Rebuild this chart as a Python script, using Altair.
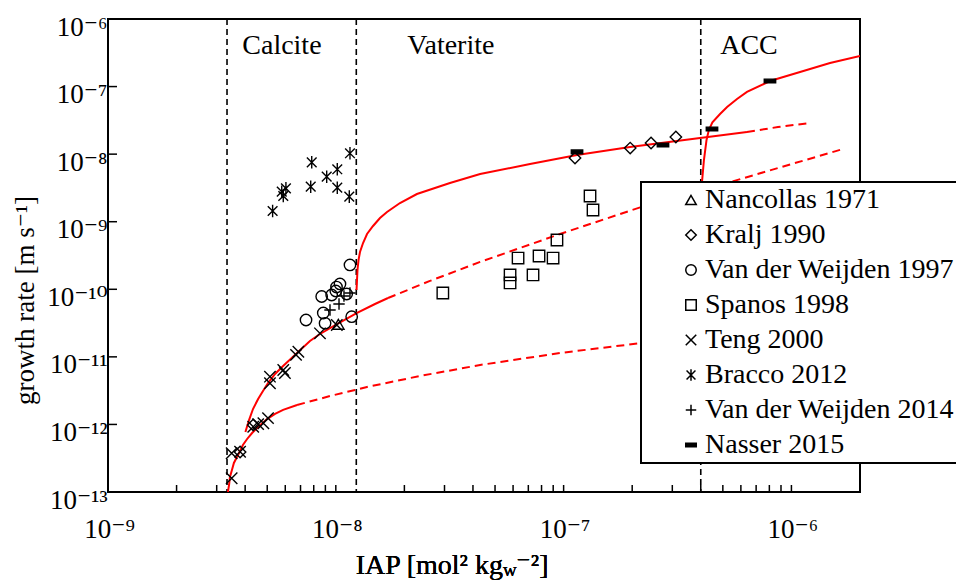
import altair as alt
import pandas as pd

SERIF = "Liberation Serif, DejaVu Serif, serif"
BLACK = "black"
RED = "#ff0000"

# ---------------- literature growth rates ----------------
studies = ["Nancollas 1971", "Kralj 1990", "Van der Weijden 1997", "Spanos 1998",
           "Teng 2000", "Bracco 2012", "Van der Weijden 2014", "Nasser 2015"]

nancollas_iap = [1.026e-8]
nancollas_rate = [3.03e-11]

kralj_iap = [3.80e-9, 4.34e-9, 1.122e-7, 1.96e-7, 2.42e-7, 3.11e-7]
kralj_rate = [3.9e-13, 9.8e-13, 8.77e-9, 1.23e-8, 1.46e-8, 1.79e-8]

weijden97_iap = [1.154e-8, 1.043e-8, 8.67e-9, 9.59e-9, 1.0e-8, 1.116e-8,
                 8.81e-9, 7.40e-9, 8.97e-9, 1.174e-8, 1.007e-8]
weijden97_rate = [2.29e-10, 1.20e-10, 7.82e-11, 8.23e-11, 9.44e-11, 8.51e-11,
                  4.46e-11, 3.51e-11, 3.14e-11, 3.93e-11, 1.08e-10]

spanos_iap = [2.95e-8, 5.82e-8, 5.82e-8, 6.31e-8, 7.34e-8, 7.80e-8, 8.99e-8,
              9.35e-8, 1.306e-7, 1.346e-7]
spanos_rate = [8.81e-11, 1.63e-10, 1.24e-10, 2.90e-10, 1.63e-10, 3.11e-10,
               2.90e-10, 5.36e-10, 2.40e-9, 1.49e-9]

teng_iap = [3.49e-9, 3.49e-9, 3.80e-9, 4.34e-9, 4.56e-9, 4.81e-9, 5.04e-9,
            5.14e-9, 5.14e-9, 5.88e-9, 5.98e-9, 6.85e-9, 6.69e-9, 8.52e-9, 1.01e-8]
teng_rate = [1.60e-13, 3.74e-13, 3.95e-13, 9.25e-13, 1.01e-12, 1.04e-12, 1.24e-12,
             5.09e-12, 4.06e-12, 6.39e-12, 5.77e-12, 1.19e-11, 1.07e-11, 2.23e-11,
             2.96e-11]

bracco_iap = [5.28e-9, 5.79e-9, 5.88e-9, 6.04e-9, 7.84e-9, 7.76e-9, 9.12e-9,
              1.015e-8, 1.015e-8, 1.154e-8, 1.146e-8]
bracco_rate = [1.44e-9, 2.78e-9, 2.40e-9, 3.12e-9, 7.57e-9, 3.30e-9, 4.64e-9,
               5.97e-9, 3.19e-9, 1.03e-8, 2.35e-9]

weijden14_iap = [9.43e-9, 1.033e-8, 1.154e-8, 1.086e-8]
weijden14_rate = [4.94e-11, 6.06e-11, 8.81e-11, 7.96e-11]

nasser_iap = [1.145e-7, 2.73e-7, 4.48e-7, 8.05e-7]
nasser_rate = [1.08e-8, 1.37e-8, 2.36e-8, 1.21e-7]

# ---------------- model curves ----------------
calcite_low_iap = [3.36e-9, 3.40e-9, 3.43e-9, 3.50e-9, 3.57e-9, 3.68e-9, 3.80e-9,
                   3.91e-9, 4.08e-9, 4.29e-9, 4.56e-9, 4.99e-9, 5.41e-9, 5.87e-9, 6.76e-9]
calcite_low_rate = [1.0e-13, 1.27e-13, 1.67e-13, 2.12e-13, 2.69e-13, 3.30e-13, 4.05e-13,
                    4.96e-13, 6.09e-13, 7.47e-13, 9.16e-13, 1.20e-12, 1.43e-12, 1.64e-12,
                    1.94e-12]
calcite_low_ext_iap = [6.76e-9, 9.43e-9, 1.371e-8, 2.34e-8, 4.30e-8, 9.64e-8, 2.19e-7, 3.59e-7]
calcite_low_ext_rate = [1.94e-12, 2.63e-12, 3.58e-12, 5.21e-12, 7.58e-12, 1.14e-11,
                        1.60e-11, 1.97e-11]

calcite_up_iap = [4.01e-9, 4.16e-9, 4.33e-9, 4.56e-9, 4.79e-9, 5.04e-9, 5.41e-9, 5.87e-9,
                  6.76e-9, 7.70e-9, 8.52e-9, 1.012e-8, 1.24e-8, 1.486e-8, 1.695e-8]
calcite_up_rate = [7.73e-13, 1.16e-12, 1.69e-12, 2.38e-12, 3.12e-12, 4.10e-12, 5.58e-12,
                   7.32e-12, 1.14e-11, 1.72e-11, 2.18e-11, 3.06e-11, 4.46e-11, 6.06e-11,
                   7.43e-11]
calcite_up_ext_iap = [1.695e-8, 2.59e-8, 4.30e-8, 9.64e-8, 2.19e-7, 5.22e-7, 9.37e-7, 1.685e-6]
calcite_up_ext_rate = [7.43e-11, 1.33e-10, 2.54e-10, 6.58e-10, 1.65e-9, 3.74e-9, 6.68e-9,
                       1.19e-8]

vaterite_iap = [1.233e-8, 1.239e-8, 1.245e-8, 1.258e-8, 1.277e-8, 1.317e-8, 1.371e-8,
                1.457e-8, 1.563e-8, 1.678e-8, 1.913e-8, 2.27e-8, 3.17e-8, 4.30e-8,
                7.12e-8, 1.145e-7, 1.956e-7, 3.97e-7, 6.38e-7]
vaterite_rate = [9.76e-11, 1.37e-10, 1.93e-10, 2.71e-10, 3.56e-10, 4.84e-10, 6.58e-10,
                 8.65e-10, 1.135e-9, 1.39e-9, 1.89e-9, 2.57e-9, 3.74e-9, 5.08e-9,
                 7.15e-9, 9.71e-9, 1.28e-8, 1.73e-8, 2.13e-8]
vaterite_ext_iap = [6.38e-7, 8.73e-7, 1.207e-6]
vaterite_ext_rate = [2.13e-8, 2.52e-8, 2.89e-8]

acc_iap = [4.01e-7, 4.03e-7, 4.05e-7, 4.13e-7, 4.24e-7, 4.34e-7, 4.50e-7, 4.86e-7,
           5.22e-7, 5.77e-7, 6.38e-7, 8.05e-7, 1.091e-6, 1.477e-6, 2.0e-6]
acc_rate = [1.26e-9, 2.95e-9, 3.87e-9, 8.19e-9, 1.62e-8, 2.28e-8, 2.95e-8, 3.93e-8,
            4.99e-8, 6.55e-8, 8.32e-8, 1.21e-7, 1.64e-7, 2.23e-7, 2.84e-7]

# phase solubility limits
phase_iap = [3.33e-9, 1.23e-8, 4.0e-7]
phase_names = ["Calcite", "Vaterite", "ACC"]
phase_label_iap = [5.80e-9, 3.20e-8, 6.51e-7]
phase_label_rate = [4.0e-7, 4.0e-7, 4.0e-7]

# axes
x_major = [1e-9, 1e-8, 1e-7, 1e-6]
x_major_labels = ["10⁻⁹", "10⁻⁸", "10⁻⁷", "10⁻⁶"]
x_tick_values = [1e-9, 2e-9, 3e-9, 4e-9, 5e-9, 6e-9, 7e-9, 8e-9, 9e-9,
                 1e-8, 2e-8, 3e-8, 4e-8, 5e-8, 6e-8, 7e-8, 8e-8, 9e-8,
                 1e-7, 2e-7, 3e-7, 4e-7, 5e-7, 6e-7, 7e-7, 8e-7, 9e-7, 1e-6]
y_major = [1e-13, 1e-12, 1e-11, 1e-10, 1e-9, 1e-8, 1e-7, 1e-6]
y_major_labels = ["10⁻¹³", "10⁻¹²", "10⁻¹¹", "10⁻¹⁰", "10⁻⁹", "10⁻⁸", "10⁻⁷", "10⁻⁶"]

# ---------------- tables ----------------
series = [
    ("Nancollas 1971", nancollas_iap, nancollas_rate),
    ("Kralj 1990", kralj_iap, kralj_rate),
    ("Van der Weijden 1997", weijden97_iap, weijden97_rate),
    ("Spanos 1998", spanos_iap, spanos_rate),
    ("Teng 2000", teng_iap, teng_rate),
    ("Bracco 2012", bracco_iap, bracco_rate),
    ("Van der Weijden 2014", weijden14_iap, weijden14_rate),
    ("Nasser 2015", nasser_iap, nasser_rate),
]
points = pd.DataFrame(
    [{"iap": x, "rate": y, "study": name} for name, xs, ys in series for x, y in zip(xs, ys)]
)

def curve_table(parts):
    rows = []
    for cid, xs, ys in parts:
        for i, (x, y) in enumerate(zip(xs, ys)):
            rows.append({"iap": x, "rate": y, "curve": cid, "idx": i})
    return pd.DataFrame(rows)

solid_curves = curve_table([
    ("calcite_low", calcite_low_iap, calcite_low_rate),
    ("calcite_up", calcite_up_iap, calcite_up_rate),
    ("vaterite", vaterite_iap, vaterite_rate),
    ("acc", acc_iap, acc_rate),
])
dashed_curves = curve_table([
    ("calcite_low", calcite_low_ext_iap, calcite_low_ext_rate),
    ("calcite_up", calcite_up_ext_iap, calcite_up_ext_rate),
    ("vaterite", vaterite_ext_iap, vaterite_ext_rate),
])

phases = pd.DataFrame({"iap": phase_iap})
phase_labels = pd.DataFrame({"iap": phase_label_iap, "rate": phase_label_rate,
                             "name": phase_names})
x_ticks = pd.DataFrame({"iap": x_tick_values})
y_ticks = pd.DataFrame({"rate": y_major})


def label_expr(values, labels):
    parts = [f"(datum.value > {v / 2:g} && datum.value < {v * 2:g}) ? '{lab}'"
             for v, lab in zip(values, labels)]
    return " : ".join(parts) + " : ''"


x_scale = alt.Scale(type="log", domain=[1e-9, 2e-6], nice=False)
y_scale = alt.Scale(type="log", domain=[1e-13, 1e-6], nice=False)

x_axis = alt.Axis(values=x_major, labelExpr=label_expr(x_major, x_major_labels),
                  ticks=False, tickSize=0, domain=False, grid=False,
                  labelFont=SERIF, labelFontSize=27, labelColor=BLACK,
                  labelPadding=24, labelAlign="center", labelOffset=1,
                  labelFlush=False, labelOverlap=False, labelBound=False, title=None)
y_axis = alt.Axis(values=y_major, labelExpr=label_expr(y_major, y_major_labels),
                  ticks=False, tickSize=0, domain=False, grid=False,
                  labelFont=SERIF, labelFontSize=27, labelColor=BLACK,
                  labelPadding=1, labelAlign="right", labelBaseline="middle",
                  labelOffset=8, labelOverlap=False, labelBound=False,
                  title="growth rate [m s⁻¹]", titleFont=SERIF, titleFontSize=27,
                  titleFontWeight="normal", titleColor=BLACK, titleX=-83, titleY=281,
                  titleAngle=270, titleAlign="center", titleBaseline="middle")

X = alt.X("iap:Q", scale=x_scale, axis=x_axis)
Y = alt.Y("rate:Q", scale=y_scale, axis=y_axis)

# phase boundaries
bounds = alt.Chart(phases).mark_rule(color=BLACK, strokeWidth=1.6, strokeDash=[6, 4]).encode(
    x=alt.X("iap:Q", scale=x_scale, axis=x_axis)
)

solid = alt.Chart(solid_curves).mark_line(color=RED, strokeWidth=2, clip=True).encode(
    x=X, y=Y, detail="curve:N", order="idx:Q"
)
dashed = alt.Chart(dashed_curves).mark_line(color=RED, strokeWidth=2, strokeDash=[8, 5],
                                            clip=True).encode(
    x=X, y=Y, detail="curve:N", order="idx:Q"
)

shape_range = [
    "triangle-up",
    "diamond",
    "circle",
    "square",
    "M-1,-1L1,1M1,-1L-1,1",
    "M-0.85,-0.85L0.85,0.85M0.85,-0.85L-0.85,0.85M0,-1.1L0,1.1",
    "M-1,0L1,0M0,-1L0,1",
    "M-1,-0.32L1,-0.32L1,0.32L-1,0.32Z",
]
fill_range = ["transparent"] * 7 + [BLACK]
stroke_range = [BLACK] * 8

legend = alt.Legend(
    title=None, orient="none", legendX=533, legendY=163,
    fillColor="white", strokeColor=BLACK, padding=4, symbolOffset=32,
    labelFont=SERIF, labelFontSize=28, labelColor=BLACK, labelOffset=0,
    labelLimit=500, labelBaseline="middle", rowPadding=7,
    symbolSize=110, symbolStrokeWidth=1.5, symbolStrokeColor=BLACK, zindex=1,
)

pts = alt.Chart(points).mark_point(filled=True, strokeWidth=1.4,
                                   opacity=1, size=130).encode(
    x=X, y=Y,
    shape=alt.Shape("study:N", scale=alt.Scale(domain=studies, range=shape_range),
                    legend=legend),
    fill=alt.Fill("study:N", scale=alt.Scale(domain=studies, range=fill_range)),
    stroke=alt.Stroke("study:N", scale=alt.Scale(domain=studies, range=stroke_range)),
)

# inward axis ticks
xt = alt.Chart(x_ticks).mark_tick(orient="vertical", size=7, thickness=1.5, color=BLACK,
                                  yOffset=-3.5, opacity=1).encode(
    x=X, y=alt.datum(1e-13)
)
yt = alt.Chart(y_ticks).mark_tick(orient="horizontal", size=9, thickness=1.5, color=BLACK,
                                  xOffset=4.5, opacity=1).encode(
    y=Y, x=alt.datum(1e-9)
)

phase_text = alt.Chart(phase_labels).mark_text(font=SERIF, fontSize=28, color=BLACK,
                                               align="center", baseline="middle").encode(
    x=X, y=Y, text="name:N"
)

# x-axis title with subscript
t1 = alt.Chart(phases).mark_text(font=SERIF, fontSize=28, color=BLACK, align="right",
                                 baseline="alphabetic").encode(
    x=alt.value(395), y=alt.value(555), text=alt.value("IAP [mol² kg")
)
t2 = alt.Chart(phases).mark_text(font=SERIF, fontSize=19, color=BLACK, align="left",
                                 baseline="alphabetic").encode(
    x=alt.value(395), y=alt.value(557), text=alt.value("w")
)
t3 = alt.Chart(phases).mark_text(font=SERIF, fontSize=28, color=BLACK, align="left",
                                 baseline="alphabetic").encode(
    x=alt.value(408), y=alt.value(555), text=alt.value("⁻²]")
)

chart = alt.layer(bounds, dashed, solid, pts, xt, yt, phase_text, t1, t2, t3).properties(
    width=752, height=473,
    autosize=alt.AutoSizeParams(type="none"),
    padding={"left": 108, "top": 19, "right": 96, "bottom": 89},
).configure_view(stroke=BLACK, strokeWidth=2).configure_legend(strokeWidth=2)

chart.save("out.html", embed_options={"renderer": "svg", "actions": False})
